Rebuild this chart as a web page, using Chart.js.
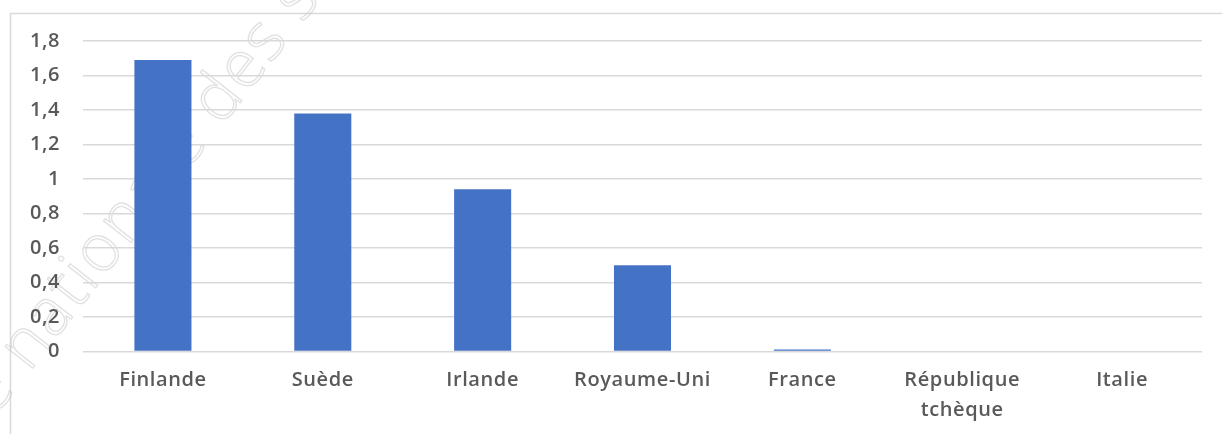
<!DOCTYPE html>
<html><head><meta charset="utf-8">
<script src="https://cdn.jsdelivr.net/npm/chart.js@4.4.1/dist/chart.umd.min.js"></script>
<style>html,body{margin:0;padding:0;background:#fff;}#wrap{width:1222px;height:434px;position:relative;}</style>
</head><body><div id="wrap"><canvas id="c" width="1222" height="434"></canvas></div>
<script>
const categories = [['Finlande'], ['Suède'], ['Irlande'], ['Royaume-Uni'], ['France'], ['République', 'tchèque'], ['Italie']];
const values = [1.69, 1.38, 0.94, 0.50, 0.012, 0, 0];
const yMin = 0, yMax = 1.8, yStep = 0.2;
const watermarkText = 'e nationale des s';

const FONT = '"Open Sans", "DejaVu Sans", sans-serif';
const SPACING = '0.6px';

const framePlugin = {
  id: 'frame',
  beforeUpdate(chart) { chart.ctx.letterSpacing = SPACING; },
  beforeDraw(chart) {
    const ctx = chart.ctx;
    ctx.letterSpacing = SPACING;
    ctx.save();
    ctx.strokeStyle = '#d9d9d9';
    ctx.lineWidth = 1.5;
    ctx.beginPath();
    ctx.moveTo(10.5, 434); ctx.lineTo(10.5, 13.5); ctx.lineTo(1222, 13.5);
    ctx.stroke();
    // faint watermark
    ctx.translate(-6, 418);
    ctx.rotate(-52 * Math.PI / 180);
    ctx.font = '300 66px ' + FONT;
    ctx.letterSpacing = '2px';
    ctx.strokeStyle = 'rgba(195,195,195,0.5)';
    ctx.lineWidth = 1.3;
    ctx.strokeText(watermarkText, 0, 0);
    ctx.restore();
    ctx.letterSpacing = SPACING;
  }
};

new Chart(document.getElementById('c'), {
  type: 'bar',
  data: {
    labels: categories,
    datasets: [{
      data: values,
      backgroundColor: '#4472C4',
      borderWidth: 0,
      categoryPercentage: 1,
      barPercentage: 0.357
    }]
  },
  options: {
    responsive: false,
    animation: false,
    devicePixelRatio: 1,
    layout: { padding: { left: 0, right: 20, top: 41, bottom: 0 } },
    plugins: { legend: { display: false }, tooltip: { enabled: false } },
    scales: {
      x: {
        grid: { display: false, drawTicks: false },
        border: { display: false },
        ticks: { color: '#595959', font: { family: FONT, size: 20, weight: '600', lineHeight: 1.5 }, padding: 14, maxRotation: 0, autoSkip: false },
        afterFit(s) { s.height = 82.5; }
      },
      y: {
        min: yMin, max: yMax,
        grid: { color: '#d9d9d9', lineWidth: 1.5, drawTicks: false },
        border: { display: false },
        ticks: {
          stepSize: yStep,
          color: '#595959',
          font: { family: FONT, size: 20, weight: '600' },
          padding: 23,
          callback: v => String(Number(v.toFixed(1))).replace('.', ',')
        },
        afterFit(s) { s.width = 83; }
      }
    }
  },
  plugins: [framePlugin]
});
</script>
</body></html>
